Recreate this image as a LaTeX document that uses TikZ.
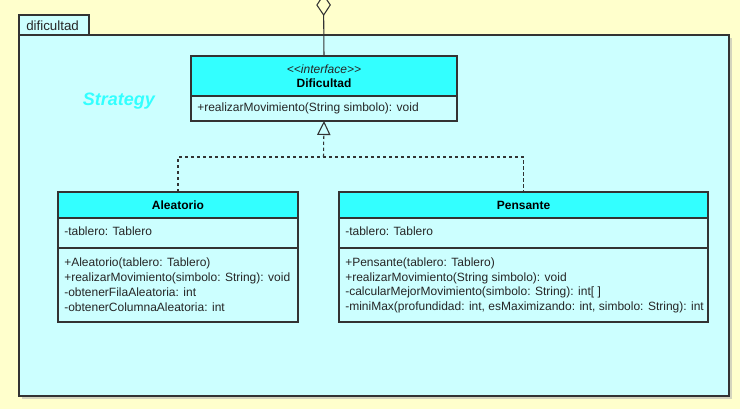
\documentclass[tikz,border=0pt]{standalone}
\usepackage{fontspec}
\setmainfont{Liberation Sans}
\usetikzlibrary{arrows.meta}
\definecolor{bgy}{HTML}{FFFFCC}
\definecolor{pkg}{HTML}{CCFFFF}
\definecolor{hdr}{HTML}{33FFFF}
\definecolor{edge}{HTML}{333333}
\definecolor{strat}{HTML}{33FFFF}
\begin{document}
\begin{tikzpicture}[x=0.75pt,y=-0.75pt,
  comp/.style={draw=edge, line width=0.8pt, inner sep=0pt, outer sep=0pt, anchor=north west, rectangle},
  txt/.style={inner sep=0pt, anchor=west, font=\fontsize{9pt}{11pt}\selectfont, text=black!85},
  ttl/.style={inner sep=0pt, font=\bfseries\fontsize{9pt}{11pt}\selectfont, text=black},
  conn/.style={draw=edge, line width=0.8pt},
  dsh/.style={conn, dash pattern=on 2.5pt off 2pt}
]
\fill[bgy] (0,0) rectangle (740,409);
\useasboundingbox (0,0) rectangle (740,409);
% package
\fill[gray!60, opacity=0.55] (22,38) rectangle (732,399);
\node[comp, fill=pkg, minimum width=52.5pt, minimum height=15pt] (tab) at (19,15) {};
\node[txt, font=\fontsize{10pt}{12pt}\selectfont] (tabt) at (26,25.5) {dificultad};
\node[comp, fill=pkg, minimum width=532.5pt, minimum height=270.75pt] (pkg) at (19,35) {};
\node[inner sep=0pt, text=strat, font=\bfseries\itshape\fontsize{13.5pt}{15pt}\selectfont] (strategy) at (119,101) {Strategy};
% Dificultad
\node[comp, fill=hdr, minimum width=199.5pt, minimum height=30pt] (difh) at (191,56) {};
\node[inner sep=0pt, font=\itshape\fontsize{9pt}{11pt}\selectfont, text=black!85] (ster) at (324,69) {<\kern0pt<interface>\kern0pt>};
\node[ttl] (dift) at (324,83) {Dificultad};
\node[comp, fill=pkg, minimum width=199.5pt, minimum height=18.75pt] (difb) at (191,96) {};
\node[txt] (difm) at (197,108.5) {+realizarMovimiento(String simbolo): void};
% Aleatorio
\node[comp, fill=hdr, minimum width=180pt, minimum height=19.5pt] (aleh) at (58,192) {};
\node[ttl] (alet) at (178,205) {Aleatorio};
\node[comp, fill=pkg, minimum width=180pt, minimum height=22.5pt] (alea) at (58,218) {};
\node[txt] (aleat) at (64,231.5) {-tablero: Tablero};
\node[comp, fill=pkg, minimum width=180pt, minimum height=55.5pt] (alem) at (58,248) {};
\node[txt] (alem1) at (64,263.5) {+Aleatorio(tablero: Tablero)};
\node[txt] (alem2) at (64,278) {+realizarMovimiento(simbolo: String): void};
\node[txt] (alem3) at (64,292.5) {-obtenerFilaAleatoria: int};
\node[txt] (alem4) at (64,307) {-obtenerColumnaAleatoria: int};
% Pensante
\node[comp, fill=hdr, minimum width=276.75pt, minimum height=19.5pt] (penh) at (339,192) {};
\node[ttl] (pent) at (523.5,205) {Pensante};
\node[comp, fill=pkg, minimum width=276.75pt, minimum height=22.5pt] (pena) at (339,218) {};
\node[txt] (penat) at (345,231.5) {-tablero: Tablero};
\node[comp, fill=pkg, minimum width=276.75pt, minimum height=55.5pt] (penm) at (339,248) {};
\node[txt] (penm1) at (345,263.5) {+Pensante(tablero: Tablero)};
\node[txt] (penm2) at (345,278) {+realizarMovimiento(String simbolo): void};
\node[txt] (penm3) at (345,292.5) {-calcularMejorMovimiento(simbolo: String): int[ ]};
\node[txt] (penm4) at (345,307) {-miniMax(profundidad: int, esMaximizando: int, simbolo: String): int};
% connectors
\coordinate (agg) at (323.5,-6);
\draw[conn, -{Diamond[open, length=16.5pt, width=11pt, line width=0.8pt]}] (difh.north) -- (agg);
\coordinate (j) at (323.5,157);
\draw[dsh] (aleh.north) |- (j) -| (penh.north);
\draw[dsh, -{Triangle[open, length=10.5pt, width=10pt, line width=0.8pt, sep=0pt]}] (j) -- (difb.south);
\end{tikzpicture}
\end{document}
